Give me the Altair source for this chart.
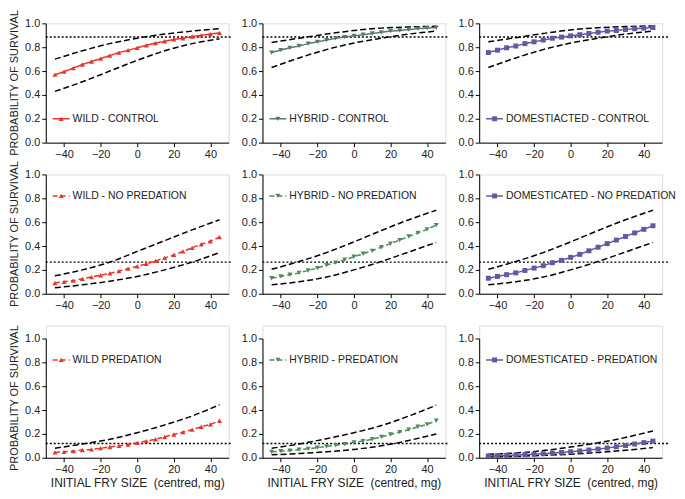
import altair as alt
import pandas as pd

# ---------------- data ----------------
x_mean = [-45, -40, -35, -30, -25, -20, -15, -10, -5, 0, 5, 10, 15, 20, 25, 30, 35, 40, 45]
x_ci = [-45, -30, -15, 0, 15, 30, 45]

ref_control = 0.885
ref_nopred = 0.265
ref_pred = 0.12

# Row 1: control
wild_control_mean = [0.57, 0.595, 0.625, 0.655, 0.68, 0.705, 0.73, 0.755, 0.775, 0.795, 0.815, 0.835, 0.85, 0.865, 0.875, 0.89, 0.90, 0.91, 0.92]
wild_control_up = [0.70, 0.77, 0.83, 0.875, 0.91, 0.935, 0.955]
wild_control_lo = [0.43, 0.51, 0.60, 0.69, 0.77, 0.83, 0.87]

hybrid_control_mean = [0.755, 0.775, 0.795, 0.81, 0.83, 0.845, 0.86, 0.875, 0.885, 0.895, 0.905, 0.915, 0.925, 0.935, 0.94, 0.948, 0.955, 0.96, 0.965]
hybrid_control_up = [0.84, 0.875, 0.91, 0.94, 0.96, 0.97, 0.975]
hybrid_control_lo = [0.63, 0.71, 0.78, 0.835, 0.875, 0.91, 0.935]

dom_control_mean = [0.755, 0.775, 0.795, 0.81, 0.83, 0.845, 0.86, 0.875, 0.885, 0.895, 0.905, 0.915, 0.925, 0.935, 0.94, 0.948, 0.955, 0.96, 0.965]
dom_control_up = [0.845, 0.88, 0.915, 0.945, 0.963, 0.973, 0.978]
dom_control_lo = [0.63, 0.71, 0.78, 0.835, 0.875, 0.91, 0.935]

# Row 2: no predation
wild_nopred_mean = [0.09, 0.10, 0.11, 0.125, 0.14, 0.155, 0.17, 0.19, 0.21, 0.23, 0.25, 0.275, 0.30, 0.325, 0.355, 0.385, 0.415, 0.44, 0.475]
wild_nopred_up = [0.15, 0.20, 0.265, 0.355, 0.445, 0.535, 0.62]
wild_nopred_lo = [0.05, 0.075, 0.105, 0.145, 0.20, 0.265, 0.345]

hybrid_nopred_mean = [0.13, 0.145, 0.16, 0.175, 0.195, 0.215, 0.24, 0.26, 0.285, 0.31, 0.335, 0.36, 0.39, 0.42, 0.45, 0.48, 0.51, 0.54, 0.575]
hybrid_nopred_up = [0.205, 0.27, 0.345, 0.435, 0.53, 0.62, 0.70]
hybrid_nopred_lo = [0.075, 0.10, 0.14, 0.20, 0.27, 0.35, 0.43]

dom_nopred_mean = [0.13, 0.145, 0.16, 0.175, 0.195, 0.215, 0.235, 0.26, 0.28, 0.305, 0.33, 0.36, 0.39, 0.42, 0.45, 0.48, 0.51, 0.54, 0.57]
dom_nopred_up = [0.205, 0.27, 0.345, 0.435, 0.53, 0.62, 0.70]
dom_nopred_lo = [0.075, 0.10, 0.14, 0.20, 0.27, 0.35, 0.43]

# Row 3: predation
wild_pred_mean = [0.045, 0.05, 0.055, 0.065, 0.07, 0.08, 0.09, 0.10, 0.11, 0.125, 0.14, 0.155, 0.175, 0.195, 0.215, 0.235, 0.26, 0.28, 0.31]
wild_pred_up = [0.08, 0.115, 0.155, 0.21, 0.275, 0.35, 0.445]
wild_pred_lo = []

hybrid_pred_mean = [0.05, 0.055, 0.06, 0.068, 0.075, 0.085, 0.095, 0.105, 0.115, 0.128, 0.14, 0.155, 0.175, 0.195, 0.215, 0.235, 0.26, 0.28, 0.31]
hybrid_pred_up = [0.08, 0.115, 0.16, 0.21, 0.27, 0.35, 0.44]
hybrid_pred_lo = [0.025, 0.035, 0.05, 0.07, 0.10, 0.145, 0.20]

dom_pred_mean = [0.015, 0.017, 0.02, 0.023, 0.026, 0.03, 0.034, 0.039, 0.045, 0.05, 0.057, 0.065, 0.073, 0.082, 0.092, 0.103, 0.115, 0.127, 0.14]
dom_pred_up = [0.03, 0.04, 0.06, 0.09, 0.125, 0.17, 0.225]
dom_pred_lo = [0.008, 0.012, 0.02, 0.03, 0.045, 0.063, 0.085]

labels = [
    ["WILD - CONTROL", "HYBRID - CONTROL", "DOMESTIACTED - CONTROL"],
    ["WILD - NO PREDATION", "HYBRID - NO PREDATION", "DOMESTICATED - NO PREDATION"],
    ["WILD PREDATION", "HYBRID - PREDATION", "DOMESTICATED - PREDATION"],
]
y_title = "PROBABILITY OF SURVIVAL"
x_title = "INITIAL FRY SIZE\u00a0 (centred, mg)"

x_ticks = [-40, -20, 0, 20, 40]
y_ticks = [0.0, 0.2, 0.4, 0.6, 0.8, 1.0]

# ---------------- styling ----------------
W, H = 184, 120
EXTRA3 = 13  # extra gap above the bottom row
FONT = "Liberation Sans"
RED = "#e8342c"
HYB1 = "#5d7866"
HYB2 = "#4f8a5c"
PUR = "#6656a4"


def panel(label, color, shape, dash, mean, up, lo, ref, leg_y, show_ytitle, show_xtitle, last_col, top_off):
    xs = alt.Scale(domain=[-50, 50], nice=False)
    ys = alt.Scale(domain=[0, 1], nice=False, range=[H + top_off, top_off])
    xax = alt.Axis(values=x_ticks, title=x_title if show_xtitle else None,
                   grid=False, domainColor="black", tickColor="black", labelColor="#222",
                   labelFont=FONT, labelFontSize=11, tickSize=4, titleFont=FONT, titleFontSize=12,
                   titleFontWeight="normal", titleColor="#222", titlePadding=3, labelPadding=2)
    yax = alt.Axis(values=y_ticks, format=".1f", title=None,
                   grid=False, domainColor="black", tickColor="black", labelColor="#222",
                   labelFont=FONT, labelFontSize=11, tickSize=4, labelPadding=2)

    mdf = pd.DataFrame({"x": x_mean, "y": mean})
    base_enc = dict(x=alt.X("x:Q", scale=xs, axis=xax), y=alt.Y("y:Q", scale=ys, axis=yax))

    layers = []
    # reference dotted line
    layers.append(
        alt.Chart(pd.DataFrame({"r": [ref]})).mark_rule(
            color="black", strokeDash=[2, 2], strokeWidth=1.4, clip=False
        ).encode(x=alt.value(0), x2=alt.value(W + (8 if last_col else 4)),
                 y=alt.Y("r:Q", scale=ys, axis=yax))
    )
    for ci in (up, lo):
        if ci:
            layers.append(
                alt.Chart(pd.DataFrame({"x": x_ci, "y": ci})).mark_line(
                    color="black", strokeDash=[6, 3], strokeWidth=1.5, interpolate="monotone"
                ).encode(**base_enc)
            )
    layers.append(
        alt.Chart(mdf).mark_line(color=color, strokeWidth=1.5, strokeDash=dash).encode(**base_enc)
    )
    layers.append(
        alt.Chart(mdf).mark_point(color=color, shape=shape, filled=True, size=25, opacity=1).encode(**base_enc)
    )
    # in-panel legend
    ldf = pd.DataFrame({"ly": [leg_y], "t": [label]})
    ly = alt.Y("ly:Q", scale=ys, axis=yax)
    layers.append(
        alt.Chart(ldf).mark_rule(color=color, strokeWidth=1.5, strokeDash=dash).encode(
            x=alt.value(7), x2=alt.value(24), y=ly)
    )
    layers.append(
        alt.Chart(ldf).mark_point(color=color, shape=shape, filled=True, size=25, opacity=1).encode(
            x=alt.value(15.5), y=ly)
    )
    layers.append(
        alt.Chart(ldf).mark_text(align="left", baseline="middle", font=FONT, fontSize=10.5,
                                 color="#222").encode(x=alt.value(27), y=ly, text="t:N")
    )
    if show_ytitle:
        tdf = pd.DataFrame({"t": [y_title]})
        layers.append(
            alt.Chart(tdf).mark_text(angle=270, align="center", baseline="middle", font=FONT,
                                     fontSize=11, color="#222").encode(
                x=alt.value(-31), y=alt.value(top_off + H / 2), text="t:N")
        )
    return alt.layer(*layers).properties(width=W, height=H + top_off)


solid = [1, 0]
dashed = [5, 3]

panels = [
    panel(labels[0][0], RED, "triangle-up", solid, wild_control_mean, wild_control_up, wild_control_lo, ref_control, 0.2, True, False, False, 0),
    panel(labels[0][1], HYB1, "triangle-down", solid, hybrid_control_mean, hybrid_control_up, hybrid_control_lo, ref_control, 0.2, False, False, False, 0),
    panel(labels[0][2], PUR, "square", solid, dom_control_mean, dom_control_up, dom_control_lo, ref_control, 0.2, False, False, True, 0),
    panel(labels[1][0], RED, "triangle-up", dashed, wild_nopred_mean, wild_nopred_up, wild_nopred_lo, ref_nopred, 0.82, True, False, False, 0),
    panel(labels[1][1], HYB2, "triangle-down", dashed, hybrid_nopred_mean, hybrid_nopred_up, hybrid_nopred_lo, ref_nopred, 0.82, False, False, False, 0),
    panel(labels[1][2], PUR, "square", solid, dom_nopred_mean, dom_nopred_up, dom_nopred_lo, ref_nopred, 0.82, False, False, True, 0),
    panel(labels[2][0], RED, "triangle-up", dashed, wild_pred_mean, wild_pred_up, wild_pred_lo, ref_pred, 0.82, True, True, False, EXTRA3),
    panel(labels[2][1], HYB2, "triangle-down", dashed, hybrid_pred_mean, hybrid_pred_up, hybrid_pred_lo, ref_pred, 0.82, False, True, False, EXTRA3),
    panel(labels[2][2], PUR, "square", solid, dom_pred_mean, dom_pred_up, dom_pred_lo, ref_pred, 0.82, False, True, True, EXTRA3),
]

chart = alt.concat(
    *panels, columns=3, spacing={"row": 32, "column": 34}, bounds="flush", padding=0
).configure_view(strokeWidth=0).configure(background="white")

chart.save("out.html", embed_options={"renderer": "svg", "actions": False})
